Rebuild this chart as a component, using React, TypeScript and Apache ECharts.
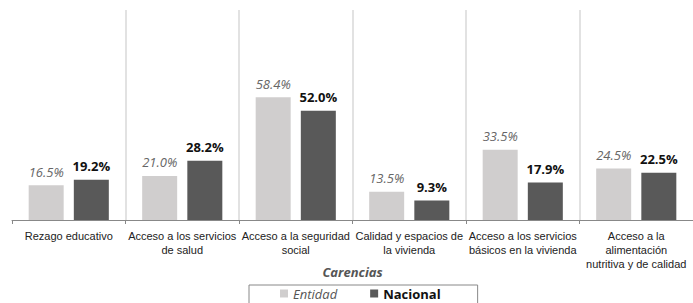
import React, { useEffect, useRef } from "react";
import * as echarts from "echarts";

const categories = [
  "Rezago educativo",
  "Acceso a los servicios\nde salud",
  "Acceso a la seguridad\nsocial",
  "Calidad y espacios de\nla vivienda",
  "Acceso a los servicios\nbásicos en la vivienda",
  "Acceso a la\nalimentación\nnutritiva y de calidad",
];
const entidad = [16.5, 21.0, 58.4, 13.5, 33.5, 24.5];
const nacional = [19.2, 28.2, 52.0, 9.3, 17.9, 22.5];

export default function App() {
  const ref = useRef<HTMLDivElement>(null);
  useEffect(() => {
    if (!ref.current) return;
    const chart = echarts.init(ref.current, null, { renderer: "svg" });
    chart.setOption({
      animation: false,
      grid: { left: 12, right: 0, top: 10, bottom: 83, containLabel: false },
      legend: {
        left: 249,
        top: 285,
        padding: [2, 37, 6, 31],
        borderColor: "#888",
        borderWidth: 1,
        itemWidth: 8,
        itemHeight: 8,
        itemGap: 33,
        data: [
          { name: "Entidad", icon: "rect", textStyle: { fontStyle: "italic", color: "#555", fontSize: 13, fontFamily: "Open Sans" } },
          { name: "Nacional", icon: "rect", textStyle: { fontWeight: "bold", color: "#111", fontSize: 13, fontFamily: "Open Sans" } },
        ],
      },
      xAxis: {
        type: "category",
        data: categories,
        name: "Carencias",
        nameLocation: "middle",
        nameGap: 45,
        nameMoveOverlap: false,
        nameTextStyle: { fontStyle: "italic", fontWeight: "bold", color: "#555", fontSize: 13, fontFamily: "Open Sans" },
        axisLine: { lineStyle: { color: "#888", width: 1 } },
        axisTick: { show: true, length: 4, lineStyle: { color: "#888" } },
        splitLine: { show: true, showMinLine: false, showMaxLine: false, lineStyle: { color: "#d9d9d9", width: 1.5 } },
        axisLabel: {
          interval: 0,
          margin: 9,
          color: "#222",
          fontSize: 11,
          lineHeight: 14,
          fontFamily: "Liberation Sans",
        },
      },
      yAxis: {
        type: "value",
        min: 0,
        max: 100,
        show: false,
        splitLine: { show: false },
      },
      series: [
        {
          name: "Entidad",
          type: "bar",
          data: entidad,
          barWidth: 35,
          barGap: "29%",
          itemStyle: { color: "#d0cece" },
          label: {
            show: true,
            position: "top",
            distance: 7,
            formatter: (p: any) => p.value.toFixed(1) + "%",
            fontStyle: "italic",
            color: "#666",
            fontSize: 13,
            fontFamily: "Open Sans",
          },
        },
        {
          name: "Nacional",
          type: "bar",
          data: nacional,
          barWidth: 35,
          itemStyle: { color: "#595959" },
          label: {
            show: true,
            position: "top",
            distance: 7,
            formatter: (p: any) => p.value.toFixed(1) + "%",
            fontWeight: "bold",
            color: "#111",
            fontSize: 13,
            fontFamily: "Open Sans",
          },
        },
      ],
    });
    return () => chart.dispose();
  }, []);
  return <div ref={ref} style={{ width: 693, height: 303, position: "absolute", left: 0, top: 0 }} />;
}
